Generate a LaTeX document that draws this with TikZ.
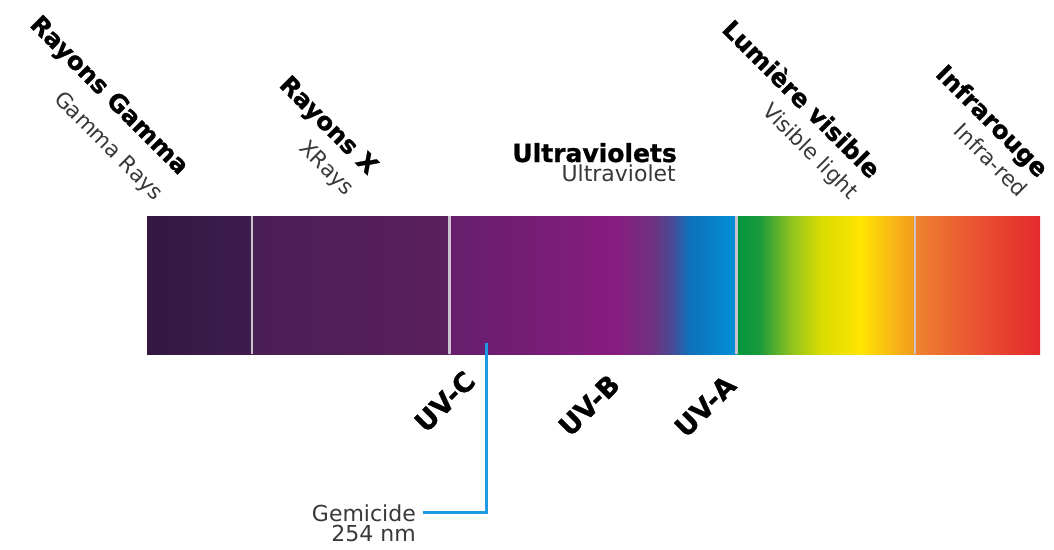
\documentclass[tikz,border=0pt]{standalone}
\usepackage{fontspec}
\setmainfont{DejaVu Sans}[BoldFeatures={FakeBold=1}]
\usepackage{xcolor}
\usepackage{tikz}
\usetikzlibrary{positioning}
\definecolor{gammaL}{HTML}{341841}
\definecolor{gammaR}{HTML}{3E1C4D}
\definecolor{xrayL}{HTML}{4A1F55}
\definecolor{xrayR}{HTML}{5A1F5C}
\definecolor{uvA}{HTML}{651E6C}
\definecolor{uvB}{HTML}{7C1D79}
\definecolor{uvC}{HTML}{881C80}
\definecolor{uvD}{HTML}{70307F}
\definecolor{uvE}{HTML}{4A4A96}
\definecolor{uvF}{HTML}{1070BB}
\definecolor{uvG}{HTML}{0090D6}
\definecolor{visA}{HTML}{00963F}
\definecolor{visB}{HTML}{1A9A3A}
\definecolor{visC}{HTML}{8CC220}
\definecolor{visD}{HTML}{D8DC00}
\definecolor{visE}{HTML}{FFE500}
\definecolor{visF}{HTML}{F9C012}
\definecolor{visG}{HTML}{F39A1F}
\definecolor{irA}{HTML}{EE8430}
\definecolor{irB}{HTML}{EA5A31}
\definecolor{irC}{HTML}{E42A2D}
\definecolor{divgray}{HTML}{C9C2CE}
\definecolor{leaderblue}{HTML}{1E9BE0}
\pgfdeclarehorizontalshading{uvband}{100bp}{color(0bp)=(uvA); color(25bp)=(uvA); color(44.2bp)=(uvB); color(53.8bp)=(uvC); color(60bp)=(uvD); color(63.8bp)=(uvE); color(66.6bp)=(uvF); color(75bp)=(uvG); color(100bp)=(uvG)}
\pgfdeclarehorizontalshading{visband}{100bp}{color(0bp)=(visA); color(25bp)=(visA); color(31.5bp)=(visB); color(40bp)=(visC); color(48.5bp)=(visD); color(59.7bp)=(visE); color(66.8bp)=(visF); color(75bp)=(visG); color(100bp)=(visG)}
\pgfdeclarehorizontalshading{irband}{100bp}{color(0bp)=(irA); color(25bp)=(irA); color(45bp)=(irB); color(75bp)=(irC); color(100bp)=(irC)}

\begin{document}
\begin{tikzpicture}[
  x=1pt, y=-1pt,
  bandtitle/.style={font=\fontsize{24.5}{30}\selectfont\bfseries, inner sep=0pt, anchor=base east},
  bandsub/.style={font=\fontsize{21.5}{26}\selectfont, text=black!78, inner sep=0pt, anchor=base east},
  diag/.style={rotate=-45},
  uvlabel/.style={font=\fontsize{27}{30}\selectfont\bfseries, inner sep=0pt, anchor=base west, rotate=45},
  divider/.style={draw=divgray, line width=2.5pt},
  leader/.style={draw=leaderblue, line width=3pt}
]
  \useasboundingbox (0,0) rectangle (1054,549);

  % Spectrum bar (x = 147 .. 1040, y = 216 .. 354)
  \shade[left color=gammaL, right color=gammaR] (147,216) rectangle (252,354);
  \shade[left color=xrayL, right color=xrayR] (252,216) rectangle (449.5,354);
  \shade[shading=uvband] (449.5,216) rectangle (736.5,354);
  \shade[shading=visband] (736.5,216) rectangle (915,354);
  \shade[shading=irband] (915,216) rectangle (1040,354);

  % Band dividers
  \draw[divider] (252,216) -- (252,354);
  \draw[divider] (449.5,216) -- (449.5,354);
  \draw[divider] (736.5,216) -- (736.5,354);
  \draw[divider] (915,216) -- (915,354);

  % Band titles above the bar
  \node[bandtitle, diag] (gammaFr) at (179,176) {Rayons Gamma};
  \node[bandsub, diag] (gammaEn) at (154.5,201.5) {Gamma Rays};
  \node[bandtitle, diag] (xrayFr) at (368,176) {Rayons X};
  \node[bandsub, diag] (xrayEn) at (345.5,196.5) {XRays};
  \node[bandtitle, font=\fontsize{25}{30}\selectfont\bfseries] (uvFr) at (677,162) {Ultraviolets};
  \node[bandsub, font=\fontsize{22}{26}\selectfont] (uvEn) at (676,181) {Ultraviolet};
  \node[bandtitle, diag] (visFr) at (870,180) {Lumière visible};
  \node[bandsub, diag] (visEn) at (849.5,200.5) {Visible light};
  \node[bandtitle, diag] (irFr) at (1038,179) {Infrarouge};
  \node[bandsub, diag] (irEn) at (1018.5,198.5) {Infra-red};

  % UV sub-bands below the bar
  \node[uvlabel] (uvc) at (426,434) {UV-C};
  \node[uvlabel] (uvb) at (570,438) {UV-B};
  \node[uvlabel] (uva) at (686,439) {UV-A};

  % Germicidal wavelength
  \coordinate (uvc254) at (486,343);
  \node[bandsub, font=\fontsize{22}{26}\selectfont] (gemicide) at (416,521) {Gemicide};
  \node[bandsub, font=\fontsize{22}{26}\selectfont] (nm254) at (416,541) {254 nm};
  \draw[leader] (uvc254) |- ([xshift=7pt]gemicide.east);

\end{tikzpicture}
\end{document}
